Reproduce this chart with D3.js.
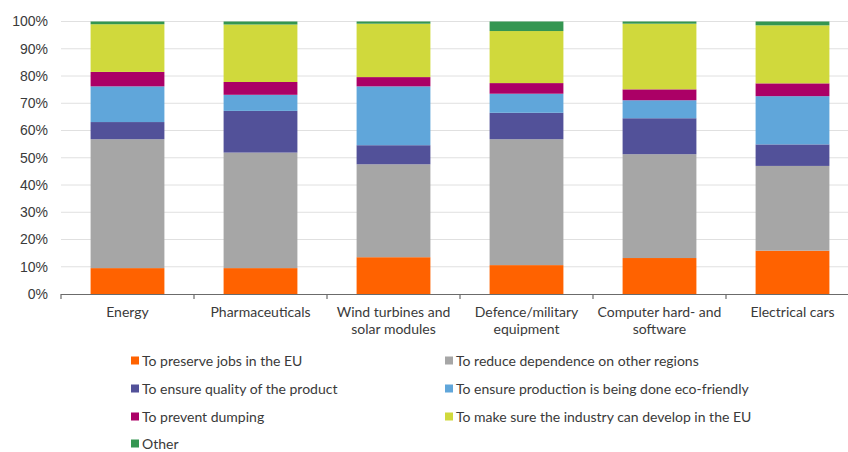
<!DOCTYPE html>
<html>
<head>
<meta charset="utf-8">
<script src="https://cdn.jsdelivr.net/npm/d3@7"></script>
<style>
  html, body { margin: 0; padding: 0; background: #fff; }
  svg { display: block; font-family: "Lato", "Open Sans", sans-serif; }
</style>
</head>
<body>
<svg id="chart" width="848" height="452"></svg>
<script>
// Sectors on the x axis (second line after "|")
const categories = [
  "Energy",
  "Pharmaceuticals",
  "Wind turbines and|solar modules",
  "Defence/military|equipment",
  "Computer hard- and|software",
  "Electrical cars"
];

// Reasons, bottom to top of each stack
const seriesNames = [
  "To preserve jobs in the EU",
  "To reduce dependence on other regions",
  "To ensure quality of the product",
  "To ensure production is being done eco-friendly",
  "To prevent dumping",
  "To make sure the industry can develop in the EU",
  "Other"
];

// Share of answers (%) per sector, one array per reason
const preserveJobs   = [9.5, 9.5, 13.5, 10.6, 13.2, 15.9];
const reduceDepend   = [47.3, 42.4, 34.1, 46.2, 38.1, 31.1];
const ensureQuality  = [6.3, 15.3, 7.0, 9.7, 13.2, 7.9];
const ecoFriendly    = [13.1, 5.9, 21.6, 7.0, 6.6, 17.7];
const preventDumping = [5.3, 4.7, 3.4, 3.9, 4.0, 4.7];
const industryDevelop= [17.5, 21.1, 19.6, 19.1, 24.1, 21.3];
const other          = [1.0, 1.1, 0.8, 3.5, 0.8, 1.4];

const seriesValues = [preserveJobs, reduceDepend, ensureQuality, ecoFriendly,
                      preventDumping, industryDevelop, other];

const colors = ["#ff6200", "#a6a6a6", "#525199", "#60a6da", "#ab0066", "#d0d93c", "#349651"];

const yTicks = [0, 10, 20, 30, 40, 50, 60, 70, 80, 90, 100];

const svg = d3.select("#chart");
const plot = { left: 61, right: 859, top: 21.5, bottom: 294 };

const x = d3.scaleBand().domain(categories).range([plot.left, plot.right]).padding(0);
const barW = x.bandwidth() * 0.555;
const y = d3.scaleLinear().domain([0, 100]).range([plot.bottom, plot.top]);

// Gridlines
svg.append("g")
  .selectAll("line")
  .data(yTicks.filter(d => d > 0))
  .join("line")
  .attr("x1", plot.left).attr("x2", 848)
  .attr("y1", d => y(d)).attr("y2", d => y(d))
  .attr("stroke", "#e0e0e0")
  .attr("stroke-width", 1);

// Y axis labels
const yAxis = d3.axisLeft(y).tickValues(yTicks).tickFormat(d => d + "%").tickSize(0).tickPadding(13);
const gy = svg.append("g").attr("transform", `translate(${plot.left},0)`).call(yAxis);
gy.select(".domain").remove();
gy.selectAll("text").attr("font-size", 14).attr("fill", "#3a3a3a");

// Stacked bars
const rows = categories.map((c, i) => {
  const r = { cat: c };
  seriesNames.forEach((s, k) => { r[s] = seriesValues[k][i]; });
  return r;
});
const stacked = d3.stack().keys(seriesNames)(rows);

svg.append("g")
  .selectAll("g")
  .data(stacked)
  .join("g")
  .attr("fill", (d, i) => colors[i])
  .selectAll("rect")
  .data(d => d)
  .join("rect")
  .attr("x", d => x(d.data.cat) + (x.bandwidth() - barW) / 2)
  .attr("width", barW)
  .attr("y", d => y(d[1]))
  .attr("height", d => y(d[0]) - y(d[1]));

// X axis
const xAxis = d3.axisBottom(x).tickSize(0).tickFormat("");
const gx = svg.append("g").attr("transform", `translate(0,${plot.bottom})`).call(xAxis);
gx.select(".domain").attr("stroke", "#6b6b6b").attr("stroke-width", 1.2)
  .attr("d", `M${plot.left},0.5H848`);

// Category tick marks at band boundaries
svg.append("g")
  .selectAll("line")
  .data(categories)
  .join("line")
  .attr("x1", d => x(d)).attr("x2", d => x(d))
  .attr("y1", plot.bottom).attr("y2", plot.bottom + 5)
  .attr("stroke", "#6b6b6b").attr("stroke-width", 1.2);

// Category labels
const labels = svg.append("g")
  .selectAll("text")
  .data(categories)
  .join("text")
  .attr("text-anchor", "middle")
  .attr("font-size", 14)
  .attr("fill", "#3a3a3a")
  .attr("x", d => x(d) + x.bandwidth() / 2)
  .attr("y", 317);
labels.each(function (d) {
  const parts = d.split("|");
  const t = d3.select(this);
  parts.forEach((p, i) => {
    t.append("tspan").attr("x", x(d) + x.bandwidth() / 2).attr("dy", i === 0 ? 0 : 17).text(p);
  });
});

// Legend, two columns
const legendCols = [131, 445];
const legendRows = [361, 389, 417, 444];
const legend = svg.append("g")
  .selectAll("g")
  .data(seriesNames)
  .join("g")
  .attr("transform", (d, i) => `translate(${legendCols[i % 2]},${legendRows[Math.floor(i / 2)]})`);
legend.append("rect")
  .attr("x", 0).attr("y", -4.5).attr("width", 8).attr("height", 8)
  .attr("fill", (d, i) => colors[i]);
legend.append("text")
  .attr("x", 11).attr("y", 0).attr("dy", "0.35em")
  .attr("font-size", 14).attr("fill", "#3a3a3a")
  .text(d => d);
</script>
</body>
</html>
